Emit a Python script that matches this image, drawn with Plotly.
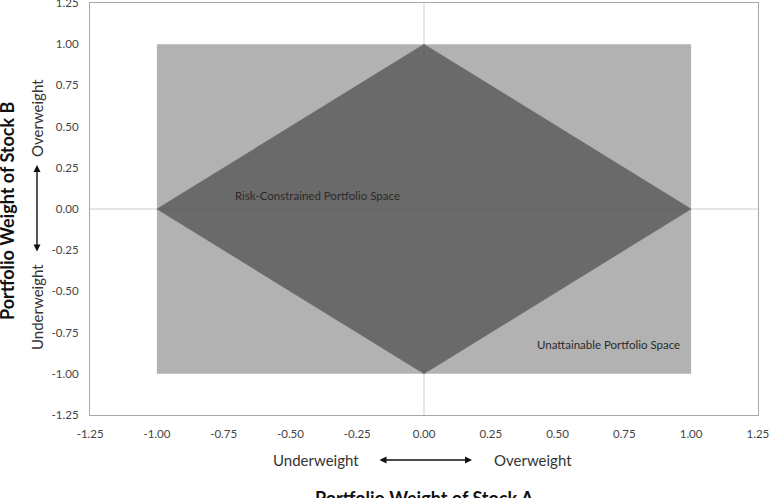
import plotly.graph_objects as go

# Data
rect_x = [-1.0, 1.0, 1.0, -1.0, -1.0]
rect_y = [-1.0, -1.0, 1.0, 1.0, -1.0]
diamond_x = [-1.0, 0.0, 1.0, 0.0, -1.0]
diamond_y = [0.0, 1.0, 0.0, -1.0, 0.0]
tick_vals = [-1.25, -1.0, -0.75, -0.5, -0.25, 0.0, 0.25, 0.5, 0.75, 1.0, 1.25]
tick_text = [f"{v:.2f}" for v in tick_vals]
label_risk = ("Risk-Constrained Portfolio Space", -0.40, 0.085)
label_unatt = ("Unattainable Portfolio Space", 0.69, -0.825)

FONT = "Lato"
fig = go.Figure()
fig.add_trace(go.Scatter(x=rect_x, y=rect_y, fill="toself", fillcolor="#b2b2b2",
                         line=dict(color="#b2b2b2", width=0), mode="lines",
                         hoverinfo="skip", showlegend=False))
fig.add_trace(go.Scatter(x=diamond_x, y=diamond_y, fill="toself", fillcolor="#6a6a6a",
                         line=dict(color="#6a6a6a", width=0.5), mode="lines",
                         hoverinfo="skip", showlegend=False))

# zero lines drawn above fills
fig.add_shape(type="line", xref="x", yref="paper", x0=0, x1=0, y0=0, y1=1,
              line=dict(color="rgba(90,90,90,0.3)", width=1), layer="above")
fig.add_shape(type="line", xref="paper", yref="y", x0=0, x1=1, y0=0, y1=0,
              line=dict(color="rgba(90,90,90,0.3)", width=1), layer="above")

for txt, x, y in (label_risk, label_unatt):
    fig.add_annotation(x=x, y=y, xref="x", yref="y", text=txt, showarrow=False,
                       font=dict(family=FONT, size=11.5, color="#2a2a2a"))

axfont = dict(family=FONT, size=11.5, color="#444444")
rng = [-1.2505, 1.2505]
common = dict(range=rng, tickvals=tick_vals, ticktext=tick_text,
              showgrid=False, zeroline=False, showline=True, mirror=True,
              linecolor="#a8a8a8", linewidth=1.2, ticks="", tickfont=axfont,
              ticklabelstandoff=8, ticklabeloverflow="allow", automargin=False)
fig.update_xaxes(**common)
fig.update_yaxes(**common)

W, H = 771, 498
L, R, T, B = 90, 13, 3, 83
pw, ph = W - L - R, H - T - B

def px(xpix):
    return (xpix - L) / pw

def py(ypix):
    return (H - B - ypix) / ph

lblfont = dict(family=FONT, size=15, color="#333333")
# x-axis direction labels
fig.add_annotation(x=px(361), y=py(460), xref="paper", yref="paper", text="Underweight",
                   showarrow=False, xanchor="right", yanchor="middle", font=lblfont)
fig.add_annotation(x=px(492), y=py(460), xref="paper", yref="paper", text="Overweight",
                   showarrow=False, xanchor="left", yanchor="middle", font=lblfont)
fig.add_annotation(x=px(472), y=py(460), xref="paper", yref="paper", text="",
                   showarrow=True, ax=-94, ay=0, arrowside="end+start",
                   arrowhead=2, arrowsize=1, arrowwidth=1.4, arrowcolor="#111111")
# y-axis direction labels
fig.add_annotation(x=px(37), y=py(118), xref="paper", yref="paper", text="Overweight",
                   showarrow=False, textangle=-90, xanchor="center", yanchor="middle",
                   font=lblfont)
fig.add_annotation(x=px(37), y=py(307), xref="paper", yref="paper", text="Underweight",
                   showarrow=False, textangle=-90, xanchor="center", yanchor="middle",
                   font=lblfont)
fig.add_annotation(x=px(37), y=py(165), xref="paper", yref="paper", text="",
                   showarrow=True, ax=0, ay=88, arrowside="end+start",
                   arrowhead=2, arrowsize=1, arrowwidth=1.4, arrowcolor="#111111")

# axis titles
ttlfont = dict(family=FONT, size=18, color="#111111")
fig.add_annotation(x=px(424), y=py(485), xref="paper", yref="paper",
                   text="<b>Portfolio Weight of Stock A</b>", showarrow=False,
                   xanchor="center", yanchor="top", font=ttlfont)
fig.add_annotation(x=px(7), y=py(211), xref="paper", yref="paper",
                   text="<b>Portfolio Weight of Stock B</b>", showarrow=False,
                   textangle=-90, xanchor="center", yanchor="middle", font=ttlfont)

fig.update_layout(width=W, height=H, margin=dict(l=L, r=R, t=T, b=B, autoexpand=False),
                  paper_bgcolor="white", plot_bgcolor="white", showlegend=False)
fig.write_html("out.html")
